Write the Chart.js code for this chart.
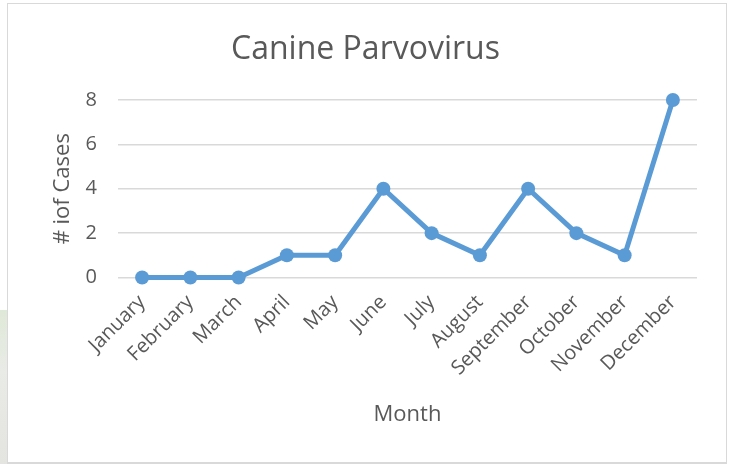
<!DOCTYPE html>
<html>
<head>
<meta charset="utf-8">
<script src="https://cdn.jsdelivr.net/npm/chart.js@4"></script>
<style>
  html, body { margin: 0; padding: 0; background: #fff; }
  #wrap { position: relative; width: 731px; height: 464px; overflow: hidden; }
  #leaf { position: absolute; left: 0; top: 310px; width: 7px; height: 154px;
          background: linear-gradient(#dfe9d8, #e9ebe6 40%, #e4e4e0); }
  #frame { position: absolute; left: 7px; top: 3px; width: 720px; height: 461px;
           box-sizing: border-box; border: 1px solid #d9d9d9; border-bottom: 2px solid #d9d9d9; background: #fff; }
  canvas { position: absolute; left: 0; top: 0; }
</style>
</head>
<body>
<div id="wrap">
  <div id="leaf"></div>
  <div id="frame"></div>
  <canvas id="chart" width="731" height="464"></canvas>
</div>
<script>
const months = ["January", "February", "March", "April", "May", "June",
  "July", "August", "September", "October", "November", "December"];
const cases = [0, 0, 0, 1, 1, 4, 2, 1, 4, 2, 1, 8];
const yTicks = [0, 2, 4, 6, 8];

const textColor = "#595959";
const lineColor = "#5B9BD5";
const font = "'Open Sans', 'DejaVu Sans', sans-serif";

const ctx = document.getElementById("chart");

new Chart(ctx, {
  type: "line",
  data: {
    labels: months,
    datasets: [{
      label: "# iof Cases",
      data: cases,
      borderColor: lineColor,
      backgroundColor: lineColor,
      borderWidth: 5,
      pointRadius: 7,
      pointBorderWidth: 0,
      pointBackgroundColor: lineColor,
      tension: 0,
      fill: false,
      clip: false
    }]
  },
  options: {
    responsive: false,
    animation: false,
    layout: { padding: { left: 17, right: 17, top: 0, bottom: 0 } },
    plugins: {
      legend: { display: false },
      tooltip: { enabled: false },
      title: {
        display: true,
        text: "Canine Parvovirus",
        color: textColor,
        font: { family: font, size: 32, weight: "normal" },
        padding: { top: 31, bottom: 30.6 }
      }
    },
    scales: {
      x: {
        offset: true,
        grid: { display: false },
        border: { display: false },
        ticks: {
          color: textColor,
          font: { family: font, size: 20 },
          minRotation: 45,
          maxRotation: 45,
          autoSkip: false,
          padding: 5
        },
        title: {
          display: true,
          text: "Month",
          color: textColor,
          font: { family: font, size: 22 },
          padding: { top: 0, bottom: 36 }
        },
        afterFit: scale => { scale.height = 186.5; }
      },
      y: {
        min: 0,
        max: 8,
        afterBuildTicks: scale => { scale.ticks = yTicks.map(v => ({ value: v })); },
        grid: { color: "#d9d9d9", lineWidth: 1.5, drawTicks: false },
        border: { display: false },
        ticks: {
          color: textColor,
          font: { family: font, size: 20 },
          padding: 21
        },
        title: {
          display: true,
          text: "# iof Cases",
          color: textColor,
          font: { family: font, size: 22 },
          padding: { top: 33, bottom: 0 }
        },
        afterFit: scale => { scale.width = 101; }
      },
      // empty right-hand gutter so the title centres on the whole frame
      y2: {
        type: "linear",
        position: "right",
        grid: { display: false },
        border: { display: false },
        ticks: { display: false },
        afterFit: scale => { scale.width = 17; }
      }
    }
  }
});
</script>
</body>
</html>
